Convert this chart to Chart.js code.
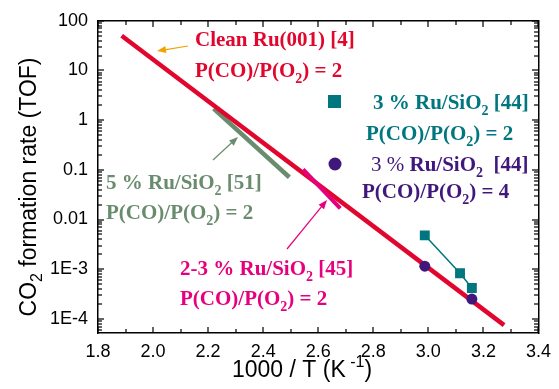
<!DOCTYPE html>
<html>
<head>
<meta charset="utf-8">
<script src="https://cdn.jsdelivr.net/npm/chart.js@4.4.1/dist/chart.umd.min.js"></script>
<style>
  html, body { margin: 0; padding: 0; background: #fff; }
  #wrap { width: 559px; height: 389px; }
</style>
</head>
<body>
<div id="wrap"><canvas id="tofChart" width="559" height="389"></canvas></div>
<script>
const cleanX = [1.886, 3.275];
const cleanY = [50, 7.5e-5];
const fivePctX = [2.22, 2.495];
const fivePctY = [1.71, 0.071];
const twoThreeX = [2.545, 2.68];
const twoThreeY = [0.102, 0.0168];
const sqX = [2.987, 3.115, 3.158];
const sqY = [0.0048, 8.3e-4, 4.2e-4];
const circX = [2.987, 3.158];
const circY = [1.15e-3, 2.5e-4];

const xTicks = [1.8, 2.0, 2.2, 2.4, 2.6, 2.8, 3.0, 3.2, 3.4];
const yTicks = [1e-4, 1e-3, 0.01, 0.1, 1, 10, 100];
const yTickLabels = ['1E-4', '1E-3', '0.01', '0.1', '1', '10', '100'];

const RED = '#e1062d';
const GREEN = '#6a8c6e';
const MAGENTA = '#e6007e';
const TEAL = '#00767f';
const PURPLE = '#40187c';
const ORANGE = '#f2a200';

const SANS = '"Liberation Sans", Arial, sans-serif';
const SERIF = '"Liberation Serif", "Times New Roman", serif';

function pts(xs, ys) {
  return xs.map((x, i) => ({ x: x, y: ys[i] }));
}

function ratio(n) {
  return [{ t: 'P(CO)/P(O' }, { t: '2', sub: true }, { t: ') = ' + n }];
}

// text labels next to the lines (pixel positions, like a legend)
const notes = [
  { x: 195, y: 46, color: RED, parts: [{ t: 'Clean Ru(001) [4]' }] },
  { x: 195, y: 77, color: RED, parts: ratio('2') },
  { x: 373, y: 109, color: TEAL, parts: [{ t: '3 % Ru/SiO' }, { t: '2', sub: true }, { t: ' [44]' }] },
  { x: 366, y: 140, color: TEAL, parts: ratio('2') },
  { x: 371, y: 171, color: PURPLE, parts: [{ t: '3 % ', normal: true }, { t: 'Ru/SiO' }, { t: '2', sub: true }, { t: '  [44]' }] },
  { x: 362, y: 198, color: PURPLE, parts: ratio('4') },
  { x: 106, y: 189, color: GREEN, parts: [{ t: '5 % Ru/SiO' }, { t: '2', sub: true }, { t: ' [51]' }] },
  { x: 106, y: 219, color: GREEN, parts: ratio('2') },
  { x: 180, y: 275, color: MAGENTA, parts: [{ t: '2-3 % Ru/SiO' }, { t: '2', sub: true }, { t: ' [45]' }] },
  { x: 180, y: 305, color: MAGENTA, parts: ratio('2') }
];

const arrows = [
  { from: [188, 46], to: [157, 51], color: ORANGE },
  { from: [213, 160], to: [238, 137], color: GREEN },
  { from: [287, 249], to: [327, 200], color: MAGENTA }
];

function drawRich(ctx, x, y, parts, size, family) {
  let cx = x;
  parts.forEach(p => {
    const s = (p.sub || p.sup) ? Math.round(size * 0.68) : size;
    ctx.font = (p.normal ? '' : 'bold ') + s + 'px ' + family;
    const dy = p.sub ? size * 0.28 : (p.sup ? -size * 0.45 : 0);
    ctx.fillText(p.t, cx, y + dy);
    cx += ctx.measureText(p.t).width;
  });
  return cx - x;
}

function measureRich(ctx, parts, size, family) {
  let w = 0;
  parts.forEach(p => {
    const s = (p.sub || p.sup) ? Math.round(size * 0.68) : size;
    ctx.font = (p.normal ? '' : 'bold ') + s + 'px ' + family;
    w += ctx.measureText(p.t).width;
  });
  return w;
}

function drawArrow(ctx, a) {
  const [x1, y1] = a.from;
  const [x2, y2] = a.to;
  const ang = Math.atan2(y2 - y1, x2 - x1);
  ctx.strokeStyle = a.color;
  ctx.fillStyle = a.color;
  ctx.lineWidth = 1.2;
  ctx.beginPath();
  ctx.moveTo(x1, y1);
  ctx.lineTo(x2 - 6 * Math.cos(ang), y2 - 6 * Math.sin(ang));
  ctx.stroke();
  ctx.beginPath();
  ctx.moveTo(x2, y2);
  ctx.lineTo(x2 - 9 * Math.cos(ang) + 3.5 * Math.sin(ang), y2 - 9 * Math.sin(ang) - 3.5 * Math.cos(ang));
  ctx.lineTo(x2 - 9 * Math.cos(ang) - 3.5 * Math.sin(ang), y2 - 9 * Math.sin(ang) + 3.5 * Math.cos(ang));
  ctx.closePath();
  ctx.fill();
}

// inward ticks on all four sides
function drawTicksIn(chart) {
  const c = chart.ctx;
  const a = chart.chartArea;
  const xs = chart.scales.x;
  const ys = chart.scales.y;
  const L = Math.round(a.left), R = Math.round(a.right);
  const T = Math.round(a.top), B = Math.round(a.bottom);
  c.save();
  c.fillStyle = '#000';
  for (let i = 0; i <= 16; i++) {
    const v = 1.8 + i * 0.1;
    const px = Math.round(xs.getPixelForValue(v));
    const len = i % 2 === 0 ? 6 : 4;
    c.fillRect(px - 0.6, B - len, 1.2, len);
    c.fillRect(px - 0.6, T, 1.2, len);
  }
  for (let e = -5; e <= 2; e++) {
    for (let m = 1; m <= 9; m++) {
      const v = m * Math.pow(10, e);
      if (v < 5.2e-5 || v > 100) continue;
      const py = Math.round(ys.getPixelForValue(v));
      const len = m === 1 ? 6 : 4;
      c.fillRect(L, py - 0.6, len, 1.2);
      c.fillRect(R - len, py - 0.6, len, 1.2);
    }
  }
  c.restore();
}

const annotate = {
  id: 'annotate',
  afterDraw(chart) {
    drawTicksIn(chart);
    const ctx = chart.ctx;
    ctx.save();
    ctx.textBaseline = 'alphabetic';
    ctx.textAlign = 'left';

    // axis titles
    ctx.fillStyle = '#000';
    const xt = [{ t: '1000 / T (K', normal: true }, { t: ' -1', sup: true, normal: true }, { t: ')', normal: true }];
    drawRich(ctx, 232, 377, xt, 23, SANS);
    const yt = [{ t: 'CO', normal: true }, { t: '2', sub: true, normal: true }, { t: ' formation rate (TOF)', normal: true }];
    const yw = measureRich(ctx, yt, 23, SANS);
    ctx.save();
    ctx.translate(36, 187);
    ctx.rotate(-Math.PI / 2);
    drawRich(ctx, -yw / 2, 0, yt, 23, SANS);
    ctx.restore();

    // annotations
    notes.forEach(n => {
      ctx.fillStyle = n.color;
      drawRich(ctx, n.x, n.y, n.parts, 21, SERIF);
    });
    arrows.forEach(a => drawArrow(ctx, a));

    // legend markers
    ctx.fillStyle = TEAL;
    ctx.fillRect(328, 95, 13, 13);
    ctx.fillStyle = PURPLE;
    ctx.beginPath();
    ctx.arc(335, 164, 6.5, 0, Math.PI * 2);
    ctx.fill();
    ctx.restore();
  }
};

const frameBorder = { display: true, color: '#000', width: 1.5 };
const noGrid = { display: false, drawTicks: false, drawOnChartArea: false };

const ctx = document.getElementById('tofChart').getContext('2d');
const tofChart = new Chart(ctx, {
  type: 'scatter',
  data: {
    datasets: [
      {
        label: '3 % Ru/SiO2 [44], P(CO)/P(O2) = 4',
        data: pts(circX, circY),
        showLine: false,
        pointStyle: 'circle',
        pointRadius: 5.5,
        backgroundColor: PURPLE,
        borderColor: PURPLE,
        borderWidth: 0
      },
      {
        label: '3 % Ru/SiO2 [44], P(CO)/P(O2) = 2',
        data: pts(sqX, sqY),
        showLine: true,
        borderWidth: 1.5,
        borderColor: TEAL,
        backgroundColor: TEAL,
        pointStyle: 'rect',
        pointRadius: 7,
        pointBorderWidth: 0
      },
      {
        label: '2-3 % Ru/SiO2 [45]',
        data: pts(twoThreeX, twoThreeY),
        showLine: true,
        borderWidth: 4,
        borderColor: MAGENTA,
        pointRadius: 0
      },
      {
        label: 'Clean Ru(001) [4]',
        data: pts(cleanX, cleanY),
        showLine: true,
        borderWidth: 4.5,
        borderColor: RED,
        pointRadius: 0
      },
      {
        label: '5 % Ru/SiO2 [51]',
        data: pts(fivePctX, fivePctY),
        showLine: true,
        borderWidth: 4.5,
        borderColor: GREEN,
        pointRadius: 0
      }
    ]
  },
  options: {
    responsive: false,
    animation: false,
    layout: { padding: { top: 20, right: 12, left: 0, bottom: 0 } },
    plugins: {
      legend: { display: false },
      tooltip: { enabled: false }
    },
    scales: {
      x: {
        type: 'linear',
        min: 1.8,
        max: 3.4,
        grid: { display: true, drawTicks: false, drawOnChartArea: false },
        border: frameBorder,
        afterBuildTicks: scale => { scale.ticks = xTicks.map(v => ({ value: v })); },
        afterFit: scale => { scale.height = 56; },
        ticks: {
          padding: 8,
          color: '#000',
          font: { family: SANS, size: 18 },
          maxRotation: 0,
          autoSkip: false,
          callback: v => Number(v).toFixed(1)
        }
      },
      x2: {
        type: 'linear',
        position: 'top',
        min: 1.8,
        max: 3.4,
        grid: { display: true, drawTicks: false, drawOnChartArea: false },
        border: frameBorder,
        ticks: { display: false },
        afterFit: scale => { scale.height = 0; }
      },
      y: {
        type: 'logarithmic',
        min: 5.2e-5,
        max: 100,
        grid: { display: true, drawTicks: false, drawOnChartArea: false },
        border: frameBorder,
        afterBuildTicks: scale => { scale.ticks = yTicks.map(v => ({ value: v })); },
        afterFit: scale => { scale.width = 98; },
        ticks: {
          padding: 10,
          color: '#000',
          font: { family: SANS, size: 18 },
          autoSkip: false,
          callback: v => {
            const i = yTicks.findIndex(t => Math.abs(Math.log10(t) - Math.log10(v)) < 1e-6);
            return i >= 0 ? yTickLabels[i] : '';
          }
        }
      },
      y2: {
        type: 'logarithmic',
        position: 'right',
        min: 5.2e-5,
        max: 100,
        grid: { display: true, drawTicks: false, drawOnChartArea: false },
        border: frameBorder,
        ticks: { display: false },
        afterFit: scale => { scale.width = 0; }
      }
    }
  },
  plugins: [annotate]
});
</script>
</body>
</html>
